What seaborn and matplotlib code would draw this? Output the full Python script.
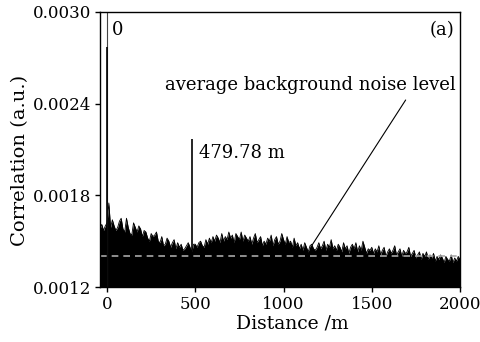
import numpy as np
import pandas as pd
import matplotlib
matplotlib.use("Agg")
import matplotlib.pyplot as plt
import seaborn as sns

# ---- data (correlation in units of 1e-4) ----
distance = np.arange(-40, 2001, 10)
corr_e4 = [
    15.8, 16.1, 15.7, 16.0,
    16.2, 17.5, 15.9, 16.4, 16.0, 15.7, 15.9, 16.3, 16.5, 15.8,
    15.6, 16.5, 15.9, 15.5, 15.4, 16.2, 15.9, 15.6, 16.0, 15.8,
    15.3, 15.7, 15.6, 15.2, 15.0, 15.5, 15.3, 15.4, 15.6, 15.0,
    14.9, 15.3, 14.7, 14.8, 15.2, 15.0, 14.6, 14.9, 15.1, 14.5,
    14.9, 14.6, 14.8, 14.4, 14.5, 14.7, 14.9, 14.6, 14.3, 14.8,
    14.8, 14.6, 14.9, 15.0, 14.7, 14.6, 15.1, 14.8, 15.2, 14.9,
    15.3, 15.0, 15.4, 15.2, 14.9, 15.5, 15.0, 15.3, 15.1, 15.6,
    15.2, 15.4, 14.9, 15.5, 15.3, 15.1, 15.6, 15.0, 15.4, 15.2,
    15.0, 15.3, 14.8, 15.2, 15.5, 14.9, 15.1, 15.3, 14.7, 15.0,
    14.8, 15.2, 15.0, 15.4, 14.7, 15.1, 15.3, 14.8, 15.0, 15.5,
    15.1, 14.8, 15.3, 14.9, 15.0, 14.6, 15.2, 14.7, 14.9, 14.5,
    14.8, 14.4, 14.9, 14.6, 14.3, 14.7, 14.8, 14.5, 14.4, 14.6,
    14.9, 14.5, 14.7, 15.0, 14.4, 14.8, 14.6, 15.1, 14.5, 14.7,
    14.4, 14.8, 14.6, 14.3, 14.9, 14.5, 14.7, 14.2, 14.6, 14.8,
    14.5, 14.9, 14.3, 14.7, 14.4, 15.0, 14.6, 14.2, 14.5, 14.4,
    14.6, 14.2, 14.5, 14.3, 14.7, 14.1, 14.4, 14.6, 14.0, 14.3,
    14.5, 14.2, 14.4, 14.7, 14.1, 14.3, 14.5, 14.0, 14.4, 14.2,
    14.3, 14.6, 14.0, 14.2, 14.4, 13.9, 14.1, 14.3, 13.8, 14.2,
    14.0, 14.3, 13.8, 14.1, 13.9, 14.2, 13.7, 14.0, 13.8, 14.1,
    13.9, 13.6, 14.0, 13.8, 13.7, 14.1, 13.6, 13.9, 13.7, 14.0,
    13.8,
]
correlation = np.array(corr_e4) * 1e-4

peak_distance = [0, 479.78]
peak_value = [0.00277, 0.00217]
zero_peak_top = 0.0034
noise_level = 0.00140

y_ticks = [0.0012, 0.0018, 0.0024, 0.0030]
y_tick_labels = ["0.0012", "0.0018", "0.0024", "0.0030"]
x_ticks = [0, 500, 1000, 1500, 2000]
x_tick_labels = ["0", "500", "1000", "1500", "2000"]

# ---- style ----
sns.set_theme(style="ticks")
plt.rcParams["font.family"] = ["DejaVu Serif"]
plt.rcParams["mathtext.fontset"] = "dejavuserif"
plt.rcParams["text.color"] = "black"
plt.rcParams["axes.labelcolor"] = "black"

fig = plt.figure(figsize=(4.8, 3.42), dpi=100)
ax = fig.add_axes([100 / 480, 1 - 287 / 342, 360 / 480, 275 / 342])

df = pd.DataFrame({"Distance": distance, "Correlation": correlation})
ax.fill_between(df["Distance"], 0.0012, df["Correlation"], color="black", lw=0)
sns.lineplot(data=df, x="Distance", y="Correlation", ax=ax, color="black", lw=0.6)

# peaks
ax.vlines([peak_distance[0]], 0.0012, [zero_peak_top], color="#444444", lw=0.8)
ax.vlines(peak_distance, 0.0012, peak_value, color="black", lw=1.2)

# average noise level
ax.axhline(noise_level, color="#a8a8a8", ls=(0, (4, 3)), lw=1.2)

ax.set_xlim(-40, 2000)
ax.set_ylim(0.0012, 0.0030)
ax.set_xticks(x_ticks)
ax.set_xticklabels(x_tick_labels)
ax.set_yticks(y_ticks)
ax.set_yticklabels(y_tick_labels)
ax.tick_params(direction="out", length=3.5, width=1, labelsize=12, colors="black", pad=3)
for s in ax.spines.values():
    s.set_linewidth(1)
    s.set_color("black")

ax.set_xlabel("Distance /m", fontsize=13.5, color="black")
ax.set_ylabel("Correlation (a.u.)", fontsize=14, color="black")
ax.xaxis.label.set_va("top")
ax.xaxis.set_label_coords((292 - 100) / 360, (287 - 315) / 275)
ax.yaxis.set_label_coords((29 - 100) / 360, (287 - 160) / 275)

ax.text(30, 0.00288, "0", fontsize=13, va="center", ha="left")
ax.text(1898, 0.00288, "(a)", fontsize=13, va="center", ha="center")
ax.text(522, 0.00208, "479.78 m", fontsize=13, va="center", ha="left")
ax.text(1151, 0.00252, "average background noise level", fontsize=13, va="center", ha="center")
ax.plot([1692, 1162], [0.002424, 0.001475], color="black", lw=0.8)

fig.savefig("out.png", dpi=100)
